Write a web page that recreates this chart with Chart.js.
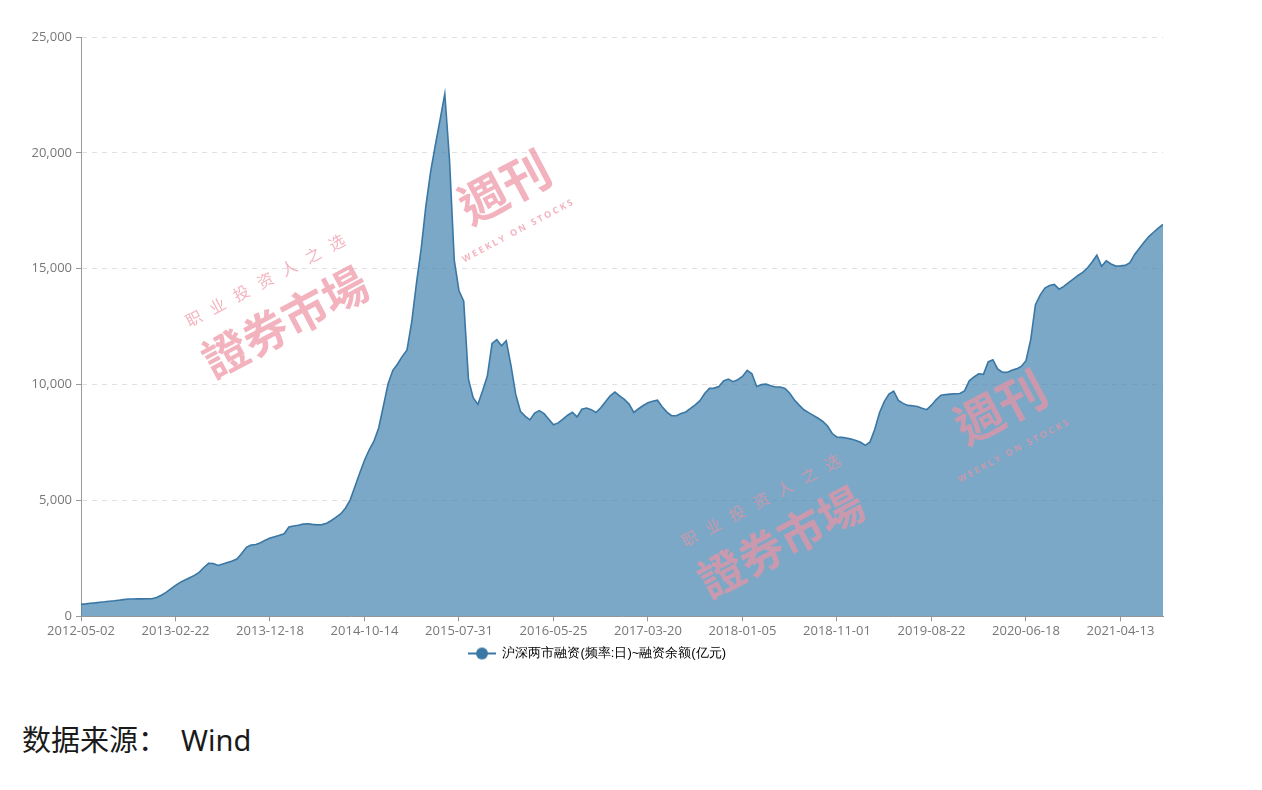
<!DOCTYPE html>
<html>
<head>
<meta charset="utf-8">
<script src="https://cdn.jsdelivr.net/npm/chart.js@4.4.1/dist/chart.umd.min.js"></script>
<style>
  html, body { margin: 0; padding: 0; background: #fff; }
  body { width: 1262px; height: 790px; position: relative; overflow: hidden; }
  #wrap { position: absolute; left: 0; top: 0; width: 1262px; height: 690px; }
  #source {
    position: absolute; left: 22px; top: 720px;
    font-family: "Noto Sans", "Noto Sans CJK SC", sans-serif;
    font-size: 29px; line-height: 40px; color: #1a1a1a;
  }
</style>
</head>
<body>
<div id="wrap"><canvas id="marginChart" width="1262" height="690"></canvas></div>
<div id="source">数据来源：<span style="margin-left:14px">Wind</span></div>
<script>
// one label every 20 samples
const tickLabels = [
  "2012-05-02", "2013-02-22", "2013-12-18", "2014-10-14", "2015-07-31", "2016-05-25",
  "2017-03-20", "2018-01-05", "2018-11-01", "2019-08-22", "2020-06-18", "2021-04-13",
];

const seriesName = "沪深两市融资(频率:日)~融资余额(亿元)";

// 融资余额 (亿元), 20 samples per tick interval
const balance = [
  520, 540, 565, 585, 610, 630, 655, 675, 700, 725, 750, 753, 756, 758, 761, 764, 815, 915, 1035, 1190,
  1340, 1470, 1570, 1670, 1770, 1900, 2110, 2290, 2280, 2200, 2260, 2330, 2390, 2475, 2710, 2980, 3080, 3100, 3180, 3290,
  3380, 3440, 3500, 3565, 3860, 3900, 3935, 3980, 4000, 3970, 3950, 3960, 4020, 4140, 4280, 4430, 4680, 5040, 5620, 6190,
  6740, 7190, 7560, 8130, 9080, 10040, 10620, 10890, 11220, 11500, 12720, 14380, 15870, 17720, 19190, 20340, 21430, 22550, 19670, 15370,
  14050, 13600, 10240, 9440, 9150, 9740, 10370, 11780, 11940, 11680, 11900, 10830, 9590, 8850, 8640, 8480, 8770, 8880, 8750, 8510,
  8270, 8350, 8515, 8680, 8810, 8610, 8940, 8990, 8920, 8800, 9005, 9265, 9520, 9680, 9520, 9360, 9160, 8800, 8960, 9100,
  9215, 9285, 9330, 9050, 8815, 8660, 8660, 8755, 8820, 8980, 9130, 9310, 9620, 9840, 9850, 9920, 10160, 10240, 10130, 10210,
  10350, 10620, 10470, 9920, 10000, 10020, 9950, 9900, 9900, 9835, 9630, 9340, 9115, 8915, 8790, 8675, 8550, 8410, 8215, 7890,
  7735, 7725, 7700, 7650, 7585, 7515, 7380, 7530, 8075, 8785, 9265, 9590, 9715, 9320, 9190, 9105, 9090, 9060, 8980, 8920,
  9115, 9355, 9545, 9570, 9590, 9605, 9620, 9730, 10165, 10330, 10470, 10445, 10980, 11075, 10680, 10535, 10530, 10625, 10680, 10785,
  11035, 11935, 13450, 13865, 14165, 14280, 14325, 14120, 14240, 14405, 14555, 14710, 14845, 15030, 15290, 15585, 15105, 15340, 15205, 15115,
  15125, 15145, 15265, 15620, 15885, 16140, 16390, 16575, 16750, 16910,
];

const lineColor = "#3a77a4";
const areaColor = "rgba(65, 131, 174, 0.7)";
const axisColor = "#999";
const labelColor = "#777";

// legend icon: short line with a dot, like the original
function makeLegendIcon() {
  const c = document.createElement("canvas");
  c.width = 28;
  c.height = 14;
  const g = c.getContext("2d");
  g.strokeStyle = lineColor;
  g.lineWidth = 2;
  g.beginPath();
  g.moveTo(0, 7);
  g.lineTo(28, 7);
  g.stroke();
  g.fillStyle = lineColor;
  g.beginPath();
  g.arc(14, 7, 6, 0, Math.PI * 2);
  g.fill();
  return c;
}

// pink publisher watermark printed twice over the plot
const watermark = {
  id: "watermark",
  afterDraw(chart) {
    const c = chart.ctx;
    [[285, 322], [781, 542]].forEach(([cx, cy]) => {
      c.save();
      c.translate(cx, cy);
      c.rotate(-28 * Math.PI / 180);
      c.globalAlpha = 0.7;
      c.fillStyle = "#ee93a2";
      c.textAlign = "center";
      c.textBaseline = "middle";
      c.font = 'bold 45px "Noto Sans CJK TC"';
      c.fillText("證券市場", 0, 0);
      c.font = 'bold 48px "Noto Sans CJK TC"';
      c.fillText("週刊", 257, -16);
      c.font = '16px "Noto Sans CJK SC"';
      "职业投资人之选".split("").forEach((ch, i) => {
        c.fillText(ch, 2 + (i - 3) * 27, -46);
      });
      c.font = 'bold 9px "Noto Sans"';
      c.fillText("W E E K L Y   O N   S T O C K S", 248, 29);
      c.restore();
    });
  },
};

function renderChart(canvas) {
  const ctx = canvas.getContext("2d");
  const icon = makeLegendIcon();

  new Chart(ctx, {
    type: "line",
    data: {
      datasets: [
        {
          label: seriesName,
          data: balance.map((v, i) => ({ x: i, y: v })),
          borderColor: lineColor,
          backgroundColor: areaColor,
          borderWidth: 1.6,
          fill: "origin",
          pointRadius: 0,
          tension: 0,
        },
      ],
    },
    options: {
      responsive: false,
      animation: false,
      layout: { padding: { top: 37, right: 99, left: 31, bottom: 20 } },
      font: { family: '"Open Sans", "Noto Sans CJK SC", sans-serif' },
      scales: {
        x: {
          type: "linear",
          min: 0,
          max: balance.length - 1,
          ticks: {
            stepSize: 20,
            includeBounds: false,
            autoSkip: false,
            maxRotation: 0,
            padding: 2,
            color: labelColor,
            font: { size: 13 },
            callback: (v) => (v % 20 === 0 ? tickLabels[v / 20] : null),
          },
          grid: { drawOnChartArea: false, tickLength: 5, tickColor: axisColor },
          border: { color: axisColor },
        },
        y: {
          min: 0,
          max: 25000,
          afterFit: (scale) => {
            scale.width = 50;
          },
          ticks: {
            stepSize: 5000,
            padding: 4,
            color: labelColor,
            font: { size: 13 },
            callback: (v) => v.toLocaleString("en-US"),
          },
          grid: {
            color: (c) => (c.tick && c.tick.value === 0 ? "rgba(0,0,0,0)" : "#e0e0e0"),
            tickColor: axisColor,
            tickLength: 5,
            tickBorderDash: [],
          },
          border: { color: axisColor, dash: [5, 5] },
        },
      },
      plugins: {
        legend: {
          position: "bottom",
          labels: {
            usePointStyle: true,
            pointStyleWidth: 28,
            padding: 6,
            color: "#666",
            font: { size: 13 },
            generateLabels: () => [
              {
                text: seriesName,
                pointStyle: icon,
                fillStyle: lineColor,
                strokeStyle: lineColor,
                lineWidth: 0,
                hidden: false,
                datasetIndex: 0,
              },
            ],
          },
        },
        tooltip: { enabled: false },
      },
    },
    plugins: [watermark],
  });
}

const chartElement = document.getElementById("marginChart");
if (chartElement) {
  renderChart(chartElement);
} else {
  console.error("Chart element not found");
}
</script>
</body>
</html>
